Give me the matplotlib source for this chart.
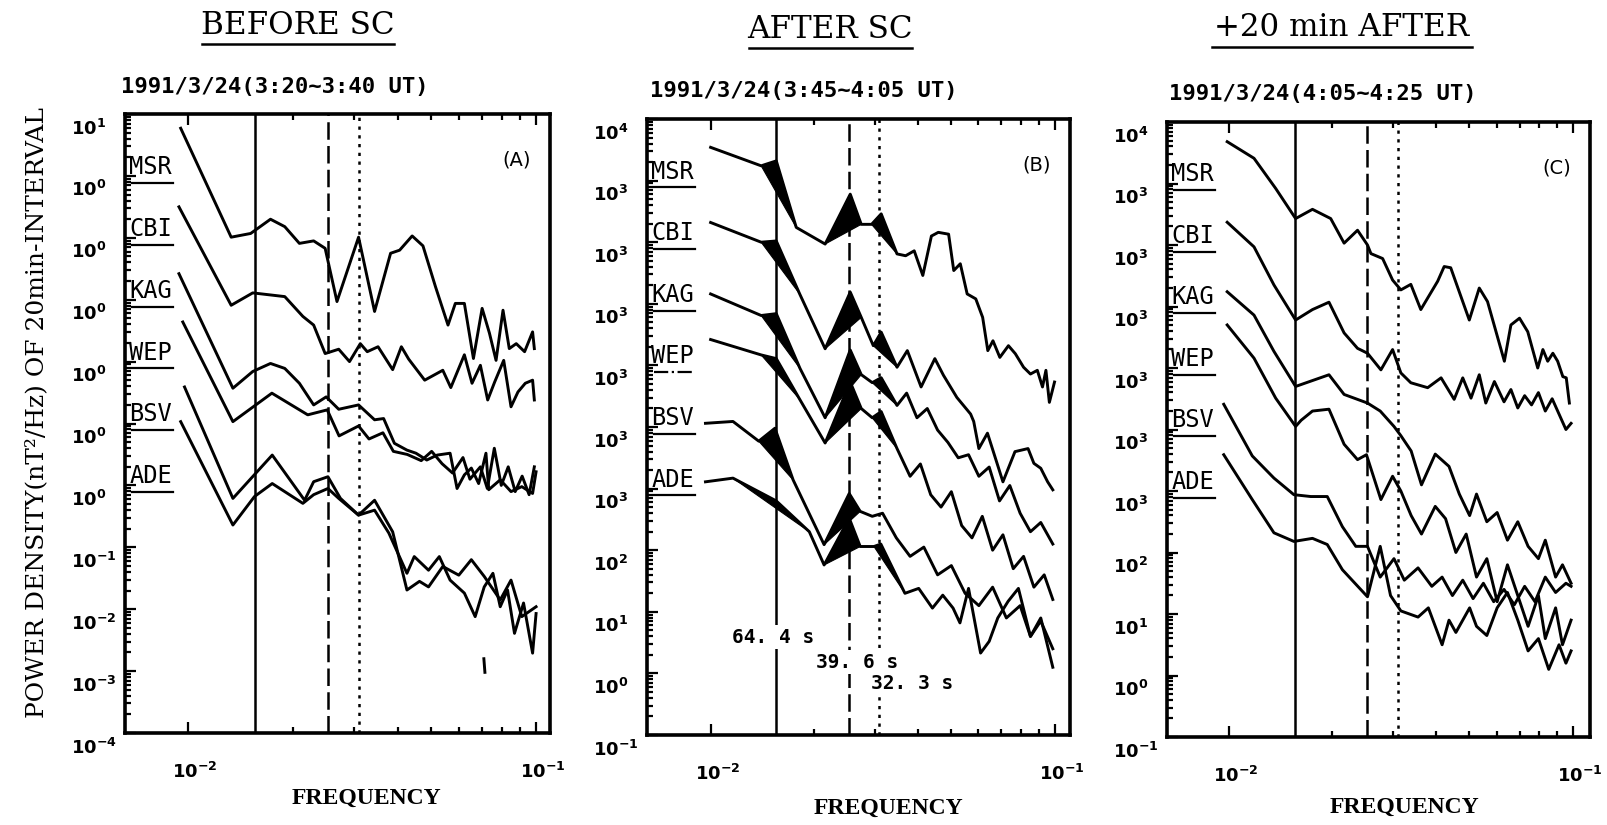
import matplotlib
matplotlib.use("Agg")
import matplotlib.pyplot as plt
import numpy as np
from matplotlib.lines import Line2D
from matplotlib.ticker import FixedLocator, NullFormatter
from matplotlib.transforms import ScaledTranslation, blended_transform_factory

plt.rcParams.update({"font.family": "DejaVu Sans",
                     "mathtext.fontset": "custom",
                     "mathtext.rm": "DejaVu Sans:bold",
                     "mathtext.default": "rm"})

STATIONS = ["MSR", "CBI", "KAG", "WEP", "BSV", "ADE"]
PERIODS = [64.4, 39.6, 32.3]          # s, marked by solid / dashed / dotted lines
TITLES = ["BEFORE SC", "AFTER SC", "+20 min AFTER"]
DATES = ["1991/3/24(3:20~3:40 UT)", "1991/3/24(3:45~4:05 UT)",
         "1991/3/24(4:05~4:25 UT)"]
LETTERS = ["(A)", "(B)", "(C)"]
# stacking offset (decades) of each station, and the labelled exponents
OFFS_A = [9, 8, 7, 6, 5, 4]
OFFS_BC = [6, 5, 4, 3, 2, 1]
YEXP_A = [-4, -3, -2, -1, 0, 0, 0, 0, 0, 0, 1]
YEXP_BC = [-1, 0, 1, 2, 3, 3, 3, 3, 3, 3, 4]

# ---- (A) before SC: log10 frequency / log10 power ----
A_MSR_LF = [-2.021, -1.876, -1.820, -1.763, -1.722, -1.680, -1.639, -1.606, -1.572, -1.510,
            -1.464, -1.418, -1.392, -1.356, -1.325, -1.289, -1.253, -1.232, -1.206, -1.180,
            -1.155, -1.134, -1.115, -1.095, -1.077, -1.057, -1.033, -1.010, -1.005]
A_MSR_LP = [0.77, -0.99, -0.93, -0.70, -0.82, -1.09, -1.05, -1.17, -2.03, -0.99,
            -2.19, -1.25, -1.20, -0.97, -1.13, -1.79, -2.41, -2.06, -2.06, -2.95,
            -2.14, -2.54, -2.98, -2.17, -2.79, -2.71, -2.84, -2.52, -2.79]
A_CBI_LF = [-2.026, -1.876, -1.814, -1.722, -1.670, -1.639, -1.606, -1.567, -1.536, -1.505,
            -1.485, -1.454, -1.412, -1.387, -1.366, -1.320, -1.268, -1.245, -1.206, -1.184,
            -1.160, -1.139, -1.119, -1.093, -1.072, -1.052, -1.031, -1.010, -1.005]
A_CBI_LP = [0.50, -1.09, -0.89, -0.95, -1.27, -1.41, -1.87, -1.80, -2.00, -1.71,
            -1.84, -1.76, -2.13, -1.76, -1.96, -2.30, -2.14, -2.42, -1.89, -2.35,
            -2.06, -2.62, -2.33, -1.98, -2.73, -2.49, -2.35, -2.30, -2.62]
A_KAG_LF = [-2.026, -1.871, -1.814, -1.763, -1.722, -1.680, -1.639, -1.603, -1.567, -1.510,
            -1.464, -1.438, -1.407, -1.371, -1.345, -1.314, -1.284, -1.247, -1.227, -1.206,
            -1.186, -1.165, -1.144, -1.136, -1.103, -1.072, -1.041, -1.010, -1.000]
A_KAG_LP = [0.42, -1.43, -1.16, -1.03, -1.11, -1.35, -1.70, -1.57, -1.77, -1.70,
            -1.94, -1.92, -2.32, -2.43, -2.48, -2.59, -2.51, -2.48, -3.05, -2.83,
            -2.72, -2.97, -2.48, -3.07, -2.91, -3.10, -3.02, -3.13, -2.78]
A_WEP_LF = [-2.015, -1.871, -1.759, -1.656, -1.600, -1.566, -1.510, -1.48, -1.44, -1.41,
            -1.37, -1.33, -1.30, -1.27, -1.24, -1.21, -1.19, -1.16, -1.14, -1.12,
            -1.10, -1.08, -1.06, -1.04, -1.02, -1.005]
A_WEP_LP = [0.64, -0.97, -0.51, -0.86, -0.78, -1.20, -1.04, -1.25, -1.15, -1.45,
            -1.50, -1.60, -1.45, -1.65, -1.80, -1.55, -1.90, -1.70, -2.05, -1.40,
            -2.00, -1.70, -2.10, -1.85, -2.15, -1.70]
A_BSV_LF = [-2.010, -1.871, -1.758, -1.665, -1.639, -1.598, -1.562, -1.510, -1.464, -1.412,
            -1.371, -1.335, -1.309, -1.268, -1.222, -1.186, -1.149, -1.103, -1.072, -1.041,
            -1.000]
A_BSV_LP = [0.59, -1.21, -0.51, -1.24, -0.94, -0.86, -1.21, -1.48, -1.24, -1.75,
            -2.69, -2.55, -2.64, -2.31, -2.45, -2.20, -2.47, -2.85, -2.53, -3.12,
            -2.96]
A_ADE_LF = [-2.021, -1.871, -1.809, -1.758, -1.670, -1.639, -1.598, -1.567, -1.510, -1.464,
            -1.423, -1.371, -1.350, -1.309, -1.278, -1.247, -1.206, -1.175, -1.149, -1.124,
            -1.103, -1.082, -1.062, -1.036, -1.010, -1.000]
A_ADE_LP = [1.03, -0.64, -0.18, 0.03, -0.29, -0.15, -0.05, -0.21, -0.48, -0.40,
            -0.77, -1.42, -1.15, -1.37, -1.15, -1.53, -1.74, -2.12, -1.64, -1.42,
            -1.96, -1.69, -2.39, -1.90, -2.71, -2.07]
# short stray piece of the ADE trace below the main curve
A_ADE_BIT_LF = [-1.150, -1.147]
A_ADE_BIT_LP = [-2.80, -3.02]

# ---- (B) after SC ----
B_MSR_LF = [-2.000, -1.853, -1.809, -1.751, -1.667, -1.594, -1.562, -1.532, -1.504, -1.458,
            -1.433, -1.408, -1.383, -1.358, -1.338, -1.308, -1.293, -1.274, -1.254, -1.229,
            -1.209, -1.194, -1.179, -1.159, -1.134, -1.114, -1.090, -1.070, -1.050, -1.035,
            -1.025, -1.015, -1.000]
B_MSR_LP = [3.54, 3.24, 3.32, 2.24, 1.97, 2.78, 2.29, 2.29, 2.46, 1.81,
            1.78, 1.86, 1.46, 2.10, 2.16, 2.13, 1.54, 1.65, 1.16, 1.08,
            0.78, 0.24, 0.40, 0.13, 0.32, 0.19, -0.03, -0.14, -0.08, -0.35,
            -0.08, -0.60, -0.27]
B_CBI_LF = [-2.000, -1.853, -1.809, -1.741, -1.667, -1.594, -1.562, -1.527, -1.504, -1.458,
            -1.428, -1.388, -1.348, -1.323, -1.284, -1.244, -1.235, -1.220, -1.195, -1.150,
            -1.115, -1.077, -1.060, -1.040, -1.020, -1.005]
B_CBI_LP = [3.32, 3.00, 3.02, 2.16, 1.27, 2.19, 1.78, 1.32, 1.54, 0.97,
            1.24, 0.65, 1.11, 0.84, 0.48, 0.21, 0.09, -0.35, -0.10, -0.89,
            -0.40, -0.35, -0.59, -0.67, -0.89, -1.02]
B_KAG_LF = [-2.0, -1.853, -1.809, -1.74, -1.667, -1.594, -1.562, -1.53, -1.504, -1.458,
            -1.43, -1.40, -1.37, -1.34, -1.31, -1.28, -1.25, -1.22, -1.19, -1.16,
            -1.13, -1.10, -1.07, -1.04, -1.005]
B_KAG_LP = [3.16, 2.81, 2.84, 1.95, 1.15, 2.25, 1.85, 1.72, 1.80, 1.35,
            1.55, 1.15, 1.30, 0.95, 0.75, 0.50, 0.55, 0.20, 0.35, -0.20,
            0.05, -0.40, -0.70, -0.55, -0.90]
B_WEP_LF = [-2.0, -1.853, -1.809, -1.741, -1.667, -1.594, -1.562, -1.53, -1.504, -1.458,
            -1.42, -1.39, -1.36, -1.33, -1.30, -1.27, -1.24, -1.21, -1.18, -1.15,
            -1.12, -1.09, -1.06, -1.03, -1.005]
B_WEP_LP = [3.42, 3.17, 3.11, 2.45, 1.74, 2.73, 2.30, 2.15, 2.25, 1.65,
            1.20, 1.40, 0.90, 0.70, 0.95, 0.40, 0.20, 0.55, 0.00, 0.25,
            -0.30, -0.10, -0.60, -0.40, -0.80]
B_BSV_LF = [-2.015, -1.935, -1.860, -1.813, -1.760, -1.670, -1.597, -1.565, -1.53, -1.50,
            -1.46, -1.42, -1.38, -1.34, -1.30, -1.26, -1.22, -1.18, -1.14, -1.10,
            -1.07, -1.04, -1.005]
B_BSV_LP = [3.06, 3.09, 2.77, 2.98, 2.14, 1.09, 1.92, 1.63, 1.55, 1.60,
            1.20, 0.90, 1.05, 0.60, 0.75, 0.30, 0.10, 0.40, -0.10, 0.10,
            -0.40, -0.15, -0.60]
B_ADE_LF = [-2.015, -1.935, -1.809, -1.713, -1.670, -1.597, -1.565, -1.525, -1.505, -1.435,
            -1.395, -1.355, -1.325, -1.295, -1.275, -1.250, -1.215, -1.190, -1.165, -1.135,
            -1.105, -1.07, -1.04, -1.005]
B_ADE_LP = [3.11, 3.17, 2.80, 2.30, 1.76, 2.52, 2.06, 2.06, 2.10, 1.30,
            1.38, 1.06, 1.27, 1.06, 0.82, 1.38, 0.33, 0.52, 0.90, 1.17,
            1.38, 0.60, 0.90, 0.10]
# vertices (index) of the spectral peaks shaded black in (B)
B_PEAKS = [[2, 5, 8], [2, 5, 8], [2, 5, 8], [2, 5, 8], [3, 6], [2, 5, 8]]

# ---- (C) +20 min after ----
C_MSR_LF = [-2.005, -1.927, -1.864, -1.806, -1.757, -1.704, -1.665, -1.626, -1.597, -1.587,
            -1.553, -1.524, -1.500, -1.471, -1.442, -1.393, -1.374, -1.355, -1.301, -1.272,
            -1.248, -1.199, -1.180, -1.155, -1.131, -1.102, -1.087, -1.073, -1.058, -1.044,
            -1.029, -1.019, -1.010]
C_MSR_LP = [3.68, 3.41, 2.92, 2.43, 2.58, 2.43, 2.03, 2.24, 2.00, 1.86,
            1.78, 1.43, 1.27, 1.36, 0.95, 1.41, 1.65, 1.63, 0.78, 1.30,
            1.08, 0.11, 0.70, 0.81, 0.59, 0.00, 0.30, 0.11, 0.24, 0.11,
            -0.14, -0.16, -0.57]
C_CBI_LF = [-2.005, -1.927, -1.869, -1.806, -1.757, -1.709, -1.665, -1.626, -1.597, -1.558,
            -1.524, -1.500, -1.471, -1.422, -1.383, -1.345, -1.320, -1.296, -1.272, -1.253,
            -1.228, -1.20, -1.18, -1.16, -1.14, -1.12, -1.10, -1.08, -1.06, -1.04,
            -1.02, -1.005]
C_CBI_LP = [3.37, 2.97, 2.35, 1.78, 1.95, 2.07, 1.57, 1.32, 1.24, 0.97,
            1.30, 0.92, 0.76, 0.68, 0.84, 0.49, 0.84, 0.51, 0.89, 0.43,
            0.78, 0.45, 0.65, 0.35, 0.55, 0.40, 0.60, 0.30, 0.50, 0.25,
            0.00, 0.10]
C_KAG_LF = [-2.005, -1.927, -1.869, -1.806, -1.709, -1.665, -1.597, -1.56, -1.52, -1.50,
            -1.47, -1.44, -1.40, -1.36, -1.33, -1.30, -1.28, -1.25, -1.22, -1.19,
            -1.16, -1.13, -1.10, -1.08, -1.05, -1.03, -1.005]
C_KAG_LP = [3.24, 2.86, 2.27, 1.70, 1.89, 1.57, 1.43, 1.30, 1.05, 0.90,
            0.65, 0.10, 0.60, 0.40, -0.05, -0.40, -0.05, -0.50, -0.35, -0.80,
            -0.50, -0.90, -1.10, -0.80, -1.40, -1.20, -1.50]
C_WEP_LF = [-2.005, -1.927, -1.864, -1.806, -1.79, -1.757, -1.709, -1.665, -1.626, -1.60,
            -1.558, -1.524, -1.50, -1.47, -1.44, -1.40, -1.37, -1.34, -1.31, -1.28,
            -1.25, -1.22, -1.19, -1.16, -1.13, -1.10, -1.08, -1.05, -1.03, -1.005]
C_WEP_LP = [3.70, 3.16, 2.51, 2.05, 2.15, 2.30, 2.33, 1.76, 1.51, 1.59,
            0.86, 1.24, 1.00, 0.60, 0.30, 0.75, 0.55, 0.00, 0.30, -0.40,
            -0.10, -0.80, -0.20, -0.70, -1.20, -0.70, -1.40, -0.90, -1.50, -1.10]
C_BSV_LF = [-2.015, -1.932, -1.869, -1.811, -1.762, -1.714, -1.670, -1.631, -1.597, -1.56,
            -1.52, -1.49, -1.45, -1.41, -1.38, -1.35, -1.32, -1.29, -1.26, -1.23,
            -1.20, -1.17, -1.14, -1.11, -1.08, -1.05, -1.02, -1.005]
C_BSV_LP = [3.41, 2.57, 2.21, 1.94, 1.91, 1.91, 1.42, 1.10, 1.10, 0.60,
            0.90, 0.55, 0.75, 0.45, 0.60, 0.30, 0.55, 0.25, 0.50, 0.20,
            0.40, 0.15, 0.45, 0.20, 0.60, 0.35, 0.50, 0.45]
C_ADE_LF = [-2.015, -1.932, -1.869, -1.811, -1.757, -1.714, -1.670, -1.597, -1.56, -1.53,
            -1.50, -1.45, -1.42, -1.38, -1.36, -1.34, -1.30, -1.28, -1.25, -1.22,
            -1.19, -1.16, -1.13, -1.10, -1.07, -1.04, -1.02, -1.005]
C_ADE_LP = [3.59, 2.86, 2.32, 2.18, 2.23, 2.13, 1.72, 1.28, 2.10, 1.30,
            1.05, 0.95, 1.10, 0.50, 0.90, 0.70, 1.10, 0.80, 0.65, 1.10,
            1.35, 0.90, 0.40, 0.60, 0.10, 0.50, 0.20, 0.40]

PANELS = [
    dict(curves=[(A_MSR_LF, A_MSR_LP), (A_CBI_LF, A_CBI_LP), (A_KAG_LF, A_KAG_LP),
                 (A_WEP_LF, A_WEP_LP), (A_BSV_LF, A_BSV_LP), (A_ADE_LF, A_ADE_LP)],
         offs=OFFS_A, yexp=YEXP_A, peaks=None,
         extra=[(A_ADE_BIT_LF, A_ADE_BIT_LP, OFFS_A[5])]),
    dict(curves=[(B_MSR_LF, B_MSR_LP), (B_CBI_LF, B_CBI_LP), (B_KAG_LF, B_KAG_LP),
                 (B_WEP_LF, B_WEP_LP), (B_BSV_LF, B_BSV_LP), (B_ADE_LF, B_ADE_LP)],
         offs=OFFS_BC, yexp=YEXP_BC, peaks=B_PEAKS, extra=[]),
    dict(curves=[(C_MSR_LF, C_MSR_LP), (C_CBI_LF, C_CBI_LP), (C_KAG_LF, C_KAG_LP),
                 (C_WEP_LF, C_WEP_LP), (C_BSV_LF, C_BSV_LP), (C_ADE_LF, C_ADE_LP)],
         offs=OFFS_BC, yexp=YEXP_BC, peaks=None, extra=[]),
]

W, H = 1608, 825
# axes boxes in pixels: left, top, right, bottom
BOXES = [(125, 114, 550, 733), (647, 119, 1070, 735), (1167, 122, 1590, 737)]
XLIMS = [(-2.181, -0.960), (-2.185, -0.955), (-2.180, -0.950)]


def panel(fig, k):
    p = PANELS[k]
    l, t, r, b = BOXES[k]
    ax = fig.add_axes([l / W, 1 - b / H, (r - l) / W, (b - t) / H])
    ax.set_xscale("log")
    ax.set_yscale("log")
    for i, ((lf, lp), off) in enumerate(zip(p["curves"], p["offs"])):
        f = 10 ** np.array(lf)
        y = 10 ** (np.array(lp) + off)
        ax.plot(f, y, color="black", lw=2.1, zorder=3)
        if p["peaks"]:
            for j in p["peaks"][i]:
                ax.fill(f[j - 1:j + 2], y[j - 1:j + 2], color="black", lw=0.8,
                        zorder=3)
    for lf, lp, off in p["extra"]:
        ax.plot(10 ** np.array(lf), 10 ** (np.array(lp) + off), color="black",
                lw=2.1, zorder=3)
    styles = ["-", (0, (7, 2.5)), (0, (1.3, 2.2))]
    for per, ls in zip(PERIODS, styles):
        ax.axvline(1 / per, color="black", lw=1.8, ls=ls, zorder=2)

    ax.set_xlim(10 ** XLIMS[k][0], 10 ** XLIMS[k][1])
    ax.set_ylim(1, 1e10)
    ax.xaxis.set_major_locator(FixedLocator([1e-2, 1e-1]))
    ax.xaxis.set_minor_locator(FixedLocator([m * 1e-2 for m in range(2, 10)]))
    ax.xaxis.set_minor_formatter(NullFormatter())
    ax.set_xticklabels([r"$10^{-2}$", r"$10^{-1}$"])
    ax.yaxis.set_major_locator(FixedLocator(10.0 ** np.arange(11)))
    ax.yaxis.set_minor_locator(FixedLocator(
        [m * 10.0 ** e for e in range(10) for m in range(2, 10)]))
    ax.yaxis.set_minor_formatter(NullFormatter())
    ax.set_yticklabels([f"$10^{{{e}}}$" for e in p["yexp"]])
    ax.tick_params(which="both", direction="in", top=True, right=False,
                   width=1.6, labelsize=13)
    ax.tick_params(which="major", length=8)
    ax.tick_params(which="minor", length=4)
    ax.tick_params(axis="y", pad=39)
    ax.tick_params(axis="x", pad=21)
    for s in ax.spines.values():
        s.set_linewidth(2.6)
    dn = ScaledTranslation(0, -9 / 72, fig.dpi_scale_trans)
    for lbl in ax.get_yticklabels():
        lbl.set_ha("left")
        lbl.set_transform(lbl.get_transform() + dn)
    rt = ScaledTranslation(5 / 72, 0, fig.dpi_scale_trans)
    for lbl in ax.get_xticklabels():
        lbl.set_transform(lbl.get_transform() + rt)

    # station names with their reference level underlined
    tr = blended_transform_factory(ax.transAxes, ax.transData)
    for i, name in enumerate(STATIONS):
        lev = 9 - i
        ax.annotate(name, xy=(0.010, 10 ** lev), xycoords=tr, xytext=(0, 1.5),
                    textcoords="offset points", ha="left", va="baseline",
                    family="DejaVu Sans Mono", fontsize=17)
        ls = "-." if (k == 1 and name == "WEP") else "-"
        ax.plot([0.017, 0.113], [10 ** (lev - 0.11)] * 2, transform=tr,
                color="black", lw=1.6, ls=ls, clip_on=False)
    ax.text(1 - 33 / (r - l), 1 - 46 / (b - t), LETTERS[k], transform=ax.transAxes,
            ha="center", va="center", fontsize=14)
    return ax


fig = plt.figure(figsize=(W / 100, H / 100), dpi=100)
axes = [panel(fig, k) for k in range(3)]

# periods of the marked lines in (B)
axb = axes[1]
for txt, lf, d in [("64. 4 s", -1.819, 1.59), ("39. 6 s", -1.575, 1.185),
                   ("32. 3 s", -1.415, 0.844)]:
    axb.text(10 ** lf, 10 ** d, txt, ha="center", va="center",
             family="DejaVu Sans Mono", weight="bold", fontsize=14, zorder=5,
             bbox=dict(facecolor="white", edgecolor="none", pad=1.5))

# titles (underlined), dates, axis labels
title_pos = [(298, 26, 202, 394, 44), (830, 30, 749, 912, 48),
             (1342, 27, 1212, 1472, 47)]
for txt, (xc, yc, x0, x1, yu) in zip(TITLES, title_pos):
    fig.text(xc / W, 1 - yc / H, txt, ha="center", va="center",
             family="DejaVu Serif", fontsize=22.3)
    fig.add_artist(Line2D([x0 / W, x1 / W], [1 - yu / H] * 2,
                          transform=fig.transFigure, color="black", lw=1.8))
for txt, (x, y) in zip(DATES, [(121, 87), (650, 91), (1169, 94)]):
    fig.text(x / W, 1 - y / H, txt, ha="left", va="center",
             family="DejaVu Sans Mono", weight="bold", fontsize=16)
for x, y in [(366, 798), (888, 808), (1404, 807)]:
    fig.text(x / W, 1 - y / H, "FREQUENCY", ha="center", va="center",
             family="Liberation Serif", weight="bold", fontsize=17)
fig.text(37 / W, 1 - 412 / H, "POWER DENSITY(nT²/Hz) OF 20min-INTERVAL",
         rotation=90, ha="center", va="center", family="DejaVu Serif",
         fontsize=18)

fig.savefig("out.png", dpi=100, facecolor="white")
